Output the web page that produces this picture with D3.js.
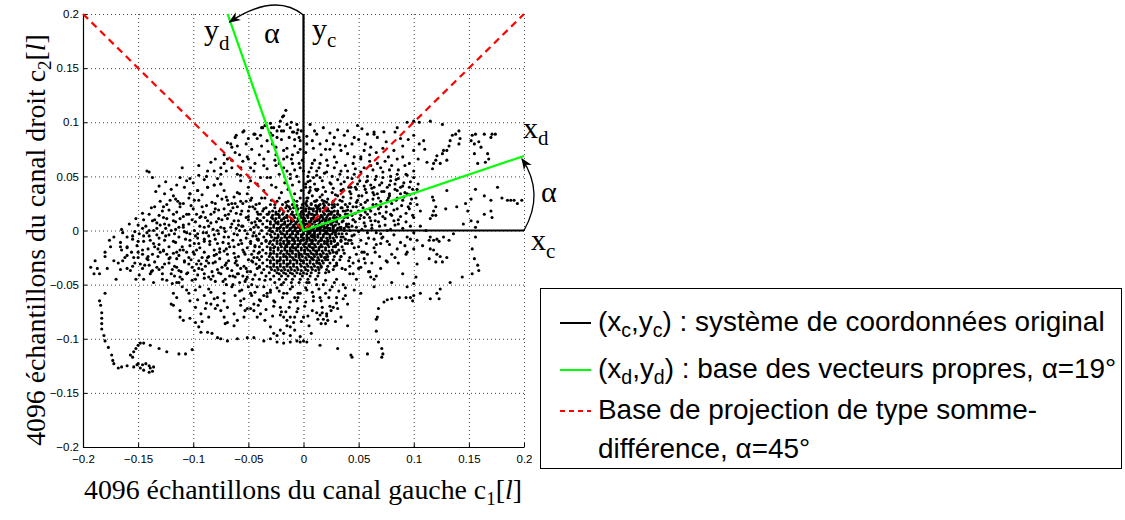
<!DOCTYPE html>
<html>
<head>
  <meta charset="utf-8">
  <title>Décorrélation stéréo</title>
  <script src="https://d3js.org/d3.v7.min.js"></script>
  <style>
    body { margin: 0; background: #fff; }
    .tick text { font-family: "Liberation Sans", Arial, sans-serif; font-size: 11.5px; }
  </style>
</head>
<body>
  <div id="chart"></div>

  <script>
    // echantillons, en milliemes (x = canal gauche, y = canal droit)
    var upperDots = [[-16,111],[-18,106],[-19,105],[-30,99],[-35,97],[-29,95],[-21,101],[-15,98],[-12,95],[-9,91],[-5,93],[-6,90],[-38,95],[-45,89],[-39,88],[-55,91],[-61,88],[-69,81],[-65,77],[-52,80],[-84,63],[-75,58],[-65,65],[-50,66],[-142,55],[-140,54],[-137,49],[-131,41],[-34,97],[-37,95],[-27,95],[-24,92],[-10,91],[-4,86],[-3,83],[-44,89],[-42,85],[-54,92],[-62,86],[-66,80],[-69,66],[-65,58],[-57,58],[-51,68],[-36,66],[-33,83],[-25,77],[-18,74],[-15,68],[-10,62],[-3,58],[-15,55],[-22,52],[-30,49],[-39,49],[-48,46],[-57,51],[-36,60],[-60,52],[-75,52],[-81,55],[-87,55],[-95,51],[-103,48],[-106,46],[-112,49],[-115,42],[-42,43],[-36,37],[-33,49],[-57,46],[-81,42],[-75,43],[-87,40],[-96,37],[-103,34],[-8,78],[-20,84],[-28,88],[-47,75],[-58,70],[-72,62],[-90,47],[-125,45],[-120,38],[-5,72],[-1,65],[-12,48],[-25,60],[-45,55],[-50,40],
      [6,98],[12,89],[8,83],[15,80],[21,83],[28,86],[37,88],[46,86],[49,97],[53,94],[58,89],[64,91],[67,86],[61,77],[55,74],[52,68],[46,68],[40,71],[34,74],[28,68],[21,65],[15,62],[12,55],[9,49],[6,46],[15,49],[21,54],[28,58],[34,55],[40,49],[46,52],[52,54],[61,60],[67,62],[58,46],[49,43],[43,40],[34,43],[25,43],[18,40],[12,37],[6,37],[64,40],[67,34],
      [-40,70],[-32,73],[-25,70],[-18,66],[-10,70],[-3,75],[3,80],[-28,80],[-22,62],[-8,56],[-44,62],[-38,78],[-30,90],[-20,92],[-13,86],[-2,92],[3,87],[10,92],[18,95],[24,90],[31,93],[40,92],[20,75],[27,80],[38,78],[44,80],[50,84],[56,80],[60,70],[66,72],[72,76],[77,68],[82,74],[90,78],[95,84],[100,88],[105,80],[110,75],[104,66],[96,62],[88,85],[75,82],[-48,58],[-55,64],[-62,72],[-70,55],[-78,48],[-88,50],[-100,44],[-108,40],[-126,34],[-134,36],[-110,58],[-95,60],[-80,66],[-72,70],[-60,78],[-50,85],
      [-20,35],[-14,38],[-8,34],[-2,37],[5,35],[11,38],[-17,44],[-10,42],[-4,45],[2,43],[-25,40],[-12,52],[-6,50],[0,55],[-18,58],[-4,62],[-11,66],[-15,76],[-8,84],[-24,86],[-18,92],[-11,100],[-22,96],[-6,98],[-26,65],[-33,57],[-29,42],[-35,30]];

    var rightDots = [[105,100],[115,101],[126,98],[141,92],[138,89],[142,85],[141,80],[135,88],[133,83],[132,78],[130,74],[127,74],[126,71],[121,69],[120,65],[118,62],[124,62],[130,65],[153,88],[156,89],[152,83],[155,80],[159,82],[161,77],[164,89],[171,89],[174,89],[170,86],[167,71],[168,66],[155,71],[158,62],[165,63],[117,31],[118,28],[120,22],[118,18],[117,14],[120,14],[115,11],[129,20],[130,37],[139,22],[149,18],[152,29],[156,38],[164,32],[170,28],[176,40],[180,30],[185,28],[188,28],[191,28],[194,25],[198,28],[164,15],[170,18],[171,12],[147,25],[152,9],[156,3],[111,0],[115,-6],[121,-8],[127,-6],[85,95],[73,91],[64,89],[83,91],[94,100],[100,101],[109,83],[100,74],[90,68],[85,66],[112,63],[117,57],[94,51],[100,49],[103,38],[94,34],[97,25],[106,18],
      [5,5],[10,8],[15,3],[20,10],[25,6],[30,12],[35,8],[40,15],[45,10],[50,18],[55,12],[60,20],[65,15],[70,22],[75,17],[80,25],[85,20],[90,28],[95,22],[8,15],[13,20],[18,25],[23,18],[28,22],[33,28],[38,24],[43,30],[48,26],[53,32],[58,28],[63,35],[68,30],[73,36],[78,32],[83,38],[88,34],[10,-5],[16,-8],[22,-3],[28,-10],[34,-6],[40,-12],[46,-4],[52,-9],[58,-2],[64,-8],[70,-3],[76,-10],[82,-4],[88,-11],[94,-6],[12,28],[17,33],[26,35],[31,32],[36,38],[42,36],[47,40],[56,38],[61,42],[71,44],[78,42],[84,47],[91,44],[96,40],[5,20],[3,30],[2,40],[4,50],[7,58],[10,65],[2,72],[9,76],[16,70],[24,75],[33,79],[19,3],[27,1],[37,2],[44,4],[53,1],[62,5],[68,8],[74,5],[82,9],[88,13],[93,8],[99,14],[45,22],[52,24],[38,18],[31,18],[60,12],[66,24],[76,28],[85,30],[57,45],[66,50],[72,54],[79,50],[86,56],[92,60],[80,60],[74,64],[88,40],[96,33],[102,30],[106,4],[100,-2],
      [45,62],[52,66],[60,64],[38,60],[30,63],[22,60],[14,58],[8,62],[5,54],[12,51],[19,53],[26,50],[33,52],[40,55],[47,57],[55,58],[63,56],[70,58],[78,56],[85,52],[4,45],[10,43],[17,46],[24,44],[31,47],[37,45],[44,48],[51,46],[58,50],[65,47],[72,49],[79,46],[86,48],[93,52],[100,55],[6,40],[13,38],[20,36],[27,39],[34,37],[41,40],[48,38],[55,41],[62,39],[69,42],[76,40],[83,43],[90,41],[97,45],[104,43],
      [8,32],[15,31],[22,29],[29,33],[36,31],[43,34],[50,32],[57,35],[64,33],[71,36],[78,34],[85,37],[92,35],[99,38],[7,25],[14,23],[21,26],[28,24],[35,27],[42,25],[49,28],[56,26],[63,29],[70,27],[77,30],[84,28],[91,31],[98,29],[5,16],[12,18],[19,15],[26,17],[33,14],[40,19],[47,16],[54,21],[61,18],[68,20],[75,22],[82,19],[89,23],[96,20],[103,24],[9,11],[16,13],[23,10],[30,8],[37,12],[44,14],[51,11],[58,15],[65,9],[72,13],[79,15],[86,10],[93,16],[100,12],
      [6,-2],[13,2],[20,-1],[27,4],[34,1],[41,6],[48,3],[55,7],[62,2],[69,4],[76,0],[83,5],[90,2],[97,4],[8,-12],[15,-15],[22,-10],[29,-14],[36,-18],[43,-9],[50,-15],[57,-12],[64,-16],[71,-7],[78,-13],[85,-17],[92,-14],[12,-22],[20,-25],[27,-20],[34,-24],[41,-28],[48,-22],[55,-26],[62,-30],[69,-24],[76,-29],[83,-25],[16,-34],[23,-38],[30,-32],[38,-36],[45,-40],[52,-34],[59,-38],[66,-42],
      [44,-5],[50,-1],[56,4],[47,8],[39,4],[35,-3],[31,-13],[38,-8],[46,-16],[53,-20],[59,-7],[66,-2],[61,9],[52,14],[43,18],[48,22],[56,17],[63,24],[69,16],[74,11],[80,14],[86,6],[79,1],[72,-6],[66,-13],[58,-22],[50,-28],[42,-33]];

    var coreDots = [[0,0],[2,1],[-3,2],[4,-2],[-1,-4],[5,3],[-6,-1],[1,6],[-4,5],[7,-5],[-8,3],[3,-8],[9,2],[-2,-9],[10,-1],[-10,-3],[6,7],[-7,7],[8,-9],[-9,-8],[12,4],[-12,1],[0,11],[2,-12],[13,-6],[-13,-6],[11,9],[-11,9],[5,-14],[-5,-13],[15,1],[-15,4],[14,10],[-14,-11],[4,14],[-3,15],[16,-9],[-16,-14],[9,-16],[-9,-16],[18,5],[-18,6],[17,13],[-17,12],[1,-18],[-1,18],[19,-3],[-19,-3],[20,9],[-20,10],[12,-19],[-12,-19],[21,-12],[-21,-12],[7,20],[-7,21],[22,2],[-22,2],[23,15],[-23,15],[3,-22],[-4,-23],[24,-7],[-24,-7],[16,-23],[-16,-24],[25,6],[-25,7],[13,22],[-13,22],[27,-15],[-27,-16],[8,-26],[-8,-27],[28,11],[-28,11],[20,20],[-20,20],[29,-2],[-29,-1],[30,-20],[-30,-21],[2,25],[-2,-28],[31,16],[-31,17],[22,-27],[-22,-28],[33,3],[-33,3],[14,-30],[-14,-31],[34,-10],[-34,-10],[26,24],[-26,24],[35,21],[-36,20],
      [-20,-50],[-10,-52],[-15,-58],[-8,-62],[-22,-56],[5,-48],[12,-50],[20,-46],[28,-48],[-35,-46],[-42,-35],[-45,-25],[-44,-15],[-46,-5],[-43,5],[-41,15],[-40,25],[42,-25],[44,-12],[42,0],[45,10],[40,22],[-16,26],[-9,28],[-3,30],[4,30],[10,27],[17,28],[-22,30],[-29,28]];

    // coeur du nuage, par rangees : [y, [x...]]
    var coreRows = [
      [27, [-24,-14,-6,3,11,19,27]],
      [24, [-30,-19,-10,-1,7,15,23,31]],
      [21, [-34,-26,-16,-9,-2,5,12,18,26,34]],
      [18, [-37,-28,-22,-14,-6,2,9,15,21,28,36]],
      [15, [-39,-32,-25,-19,-11,-6,0,7,12,19,25,31,38]],
      [12, [-36,-29,-22,-15,-8,-2,4,9,15,21,27,33,40]],
      [9, [-40,-33,-26,-20,-14,-9,-4,2,7,12,17,23,30,36]],
      [6, [-37,-30,-23,-17,-12,-7,-2,3,8,14,19,25,32,39]],
      [3, [-41,-34,-27,-21,-15,-10,-5,0,5,10,16,21,27,34,41]],
      [0, [-38,-31,-24,-18,-13,-8,-3,2,7,12,18,24,30,37]],
      [-3, [-40,-33,-26,-20,-15,-10,-5,0,5,10,15,21,26,32,39]],
      [-6, [-36,-29,-23,-17,-12,-7,-2,3,8,13,18,24,30,36]],
      [-9, [-41,-34,-27,-21,-15,-10,-5,0,6,11,16,22,28,34,41]],
      [-12, [-38,-31,-24,-18,-13,-8,-3,2,7,13,19,25,31,38]],
      [-15, [-40,-33,-26,-20,-15,-10,-5,1,6,11,17,23,29,35]],
      [-18, [-37,-30,-23,-17,-12,-7,-2,4,9,14,20,26,32]],
      [-21, [-41,-34,-27,-21,-15,-10,-4,1,7,12,18,24,30,37]],
      [-24, [-38,-31,-24,-18,-12,-7,-1,5,10,16,22,28,34]],
      [-27, [-40,-33,-27,-21,-15,-9,-3,3,9,14,20,27,33]],
      [-30, [-37,-30,-24,-18,-12,-6,0,6,12,18,24,30]],
      [-33, [-40,-33,-27,-21,-15,-9,-2,4,10,16,22,28]],
      [-36, [-36,-29,-23,-17,-11,-5,2,8,14,21,27]],
      [-39, [-38,-31,-24,-18,-12,-6,0,7,14,20]],
      [-42, [-34,-27,-20,-14,-8,-1,6,13]],
      [-45, [-30,-22,-16,-10,-3,4,11]],
      [-48, [-26,-18,-11,-4,3]]
    ];
    var coreRowsInner = [
      [23, [-15,-6,3,11,19]],
      [20, [-21,-12,-5,2,9,15,22]],
      [17, [-25,-18,-10,-2,5,12,18,25]],
      [14, [-28,-22,-15,-9,-3,3,10,16,22,28]],
      [11, [-25,-18,-11,-5,1,7,12,18,24,30]],
      [8, [-30,-23,-17,-11,-6,-1,5,10,15,20,27]],
      [5, [-27,-20,-14,-9,-4,1,6,11,17,22,29]],
      [2, [-30,-24,-18,-12,-7,-2,3,8,13,19,24,31]],
      [-1, [-28,-21,-15,-10,-5,0,5,10,15,21,27]],
      [-4, [-30,-23,-17,-12,-7,-2,3,8,13,18,24,29]],
      [-7, [-26,-20,-15,-10,-5,0,5,10,16,21,27]],
      [-10, [-30,-24,-18,-13,-8,-3,3,8,14,19,25]],
      [-13, [-28,-21,-15,-10,-5,0,5,10,16,22]],
      [-16, [-30,-23,-17,-12,-7,-2,3,8,14,20]],
      [-19, [-27,-20,-15,-10,-5,1,6,11,17,23]],
      [-22, [-30,-24,-18,-13,-7,-2,4,9,15,21]],
      [-25, [-28,-21,-15,-10,-4,2,7,13,19]],
      [-28, [-30,-24,-18,-12,-6,0,6,12,17]],
      [-31, [-27,-21,-15,-9,-3,3,9,15]],
      [-34, [-30,-24,-18,-12,-6,1,7,13]],
      [-37, [-26,-20,-14,-8,-2,4,11]],
      [-40, [-22,-16,-10,-3,3]]
    ];

    var leftDots = [[-193,-34],[-189,-28],[-187,-35],[-180,-20],[-175,-15],[-172,-6],[-166,-15],[-164,-2],[-160,-35],[-157,-37],[-154,-25],[-148,-31],[-146,-22],[-142,-26],[-139,-9],[-133,2],[-130,5],[-128,18],[-127,22],[-121,28],[-116,29],[-112,25],[-118,15],[-124,11],[-112,11],[-109,5],[-106,-2],[-103,-9],[-96,-3],[-90,3],[-87,9],[-84,15],[-92,22],[-99,28],[-103,34],[-96,37],[-87,40],[-81,42],[-75,43],[-72,37],[-69,28],[-63,31],[-60,22],[-57,15],[-63,9],[-66,3],[-72,-6],[-78,-12],[-81,-18],[-87,-25],[-93,-31],[-99,-37],[-106,-40],[-115,-34],[-121,-25],[-127,-18],[-133,-34],[-139,-40],[-69,-22],[-63,-15],[-57,-9],[-51,-3],[-45,3],[-39,9],[-33,15],[-48,28],[-51,34],
      [-150,-10],[-145,-5],[-140,0],[-135,-15],[-130,-20],[-125,-5],[-120,0],[-118,-10],[-115,-20],[-110,-15],[-108,-28],[-100,-20],[-95,-12],[-92,-25],[-88,-2],[-85,-10],[-82,-30],[-78,0],[-76,-20],[-74,10],[-70,-30],[-68,-12],[-66,18],[-62,-25],[-60,-40],[-58,0],[-55,25],[-54,-20],[-52,-35],[-50,10],[-48,-12],[-47,-28],[-44,20],[-42,-8],[-40,-20],[-38,30],[-52,-45],[-64,-42],[-58,-48],[-75,-40],[-84,-45],[-90,-40],[-98,-45],[-110,-45],[-102,-27],[-104,15],[-98,8],[-94,12],[-80,25],[-78,32],[-72,20],[-65,25],[-60,35],[-140,15],[-135,22],[-145,10],[-150,5],[-155,-5],[-160,-15],[-162,-25],[-168,-30],[-172,-28],[-178,-35],[-185,-40],[-190,-40],[-120,-40],[-128,-45],[-136,-48],[-145,-45],[-152,-45],[-170,-45],[-115,-48],[-94,-52],[-86,-54],[-70,-50],[-56,-55],[-48,-58],[-42,-52],[-36,-60],[-30,-55],
      [-118,32],[-104,30],[-92,33],[-70,31],[-58,34],[-47,30],[-130,27],[-109,25],[-95,28],[-83,26],[-74,29],[-62,25],[-52,27],[-43,24],[-138,21],[-122,19],[-112,22],[-100,20],[-88,23],[-77,19],[-64,21],[-56,18],[-46,22],[-146,16],[-131,14],[-115,17],[-106,15],[-93,13],[-81,17],[-71,14],[-61,16],[-50,13],[-42,17],
      [-152,11],[-137,9],[-127,12],[-116,8],[-101,10],[-89,12],[-79,8],[-69,11],[-59,9],[-52,12],[-44,8],[-158,6],[-143,4],[-133,7],[-122,5],[-113,3],[-104,6],[-94,4],[-84,7],[-75,3],[-65,6],[-55,4],[-47,7],
      [-165,1],[-153,-1],[-146,2],[-136,0],[-128,-2],[-116,1],[-109,3],[-99,0],[-91,-2],[-82,1],[-71,-1],[-61,2],[-53,0],[-45,-2],[-160,-6],[-149,-3],[-140,-5],[-131,-7],[-122,-4],[-113,-6],[-103,-3],[-96,-7],[-86,-5],[-77,-3],[-68,-6],[-60,-4],[-52,-7],[-43,-5],
      [-176,-9],[-166,-11],[-155,-8],[-145,-10],[-136,-12],[-126,-9],[-116,-11],[-107,-8],[-99,-12],[-90,-10],[-80,-8],[-73,-11],[-64,-9],[-56,-12],[-48,-10],[-41,-8],[-160,-16],[-151,-14],[-141,-17],[-131,-13],[-122,-15],[-112,-18],[-103,-14],[-94,-16],[-85,-13],[-76,-17],[-67,-15],[-59,-13],[-51,-16],[-44,-14],
      [-165,-18],[-156,-20],[-146,-18],[-137,-22],[-127,-19],[-118,-21],[-109,-18],[-99,-22],[-90,-20],[-81,-23],[-72,-19],[-63,-21],[-55,-18],[-47,-22],[-180,-24],[-160,-23],[-150,-25],[-141,-27],[-132,-24],[-122,-26],[-113,-23],[-104,-25],[-95,-28],[-86,-24],[-76,-26],[-68,-28],[-59,-24],[-50,-27],[-42,-25],
      [-164,-28],[-153,-30],[-144,-32],[-135,-29],[-126,-31],[-117,-33],[-108,-29],[-97,-31],[-89,-33],[-80,-29],[-71,-32],[-62,-30],[-54,-33],[-46,-29],[-166,-36],[-155,-33],[-146,-35],[-137,-37],[-128,-34],[-119,-36],[-111,-38],[-101,-34],[-92,-36],[-83,-38],[-74,-34],[-65,-37],[-57,-35],[-48,-38],[-40,-34],
      [-149,-41],[-138,-38],[-128,-40],[-117,-42],[-105,-39],[-96,-41],[-86,-43],[-77,-39],[-67,-42],[-59,-40],[-51,-43],[-44,-41],[-124,-46],[-112,-43],[-101,-46],[-90,-44],[-80,-47],[-71,-45],[-62,-43],[-53,-47],[-46,-45],
      [-142,-2],[-133,-4],[-125,2],[-117,-3],[-108,-1],[-98,-5],[-90,-8],[-81,-4],[-72,2],[-63,-3],[-56,4],[-48,1],[-150,-20],[-141,-24],[-132,-17],[-124,-22],[-115,-26],[-106,-20],[-97,-18],[-88,-28],[-79,-22],[-70,-17],[-61,-28],[-53,-22],[-45,-19],
      [-140,-32],[-131,-36],[-122,-30],[-113,-37],[-104,-31],[-95,-35],[-86,-30],[-78,-36],[-69,-35],[-60,-32],[-51,-38],[-43,-31],[-135,10],[-126,6],[-118,9],[-109,13],[-97,15],[-86,4],[-77,11],[-68,15],[-59,5],[-50,18],[-42,11],
      [-124,24],[-114,27],[-102,23],[-91,17],[-80,20],[-68,24],[-57,27],[-49,22],[-82,-42],[-73,-47],[-64,-50],[-55,-42],[-47,-50],[-40,-45]];

    var lowerDots = [[-120,-68],[-118,-69],[-112,-74],[-112,-80],[-109,-83],[-103,-81],[-98,-85],[-95,-89],[-93,-94],[-87,-94],[-83,-95],[-78,-99],[-75,-100],[-69,-102],[-60,-100],[-51,-99],[-45,-99],[-36,-102],[-30,-100],[-24,-103],[-18,-104],[-12,-103],[-6,-102],[-3,-103],[3,-103],
      [-118,-58],[-115,-62],[-119,-49],[-113,-48],[-106,-55],[-103,-65],[-98,-71],[-93,-77],[-89,-72],[-84,-68],[-81,-63],[-78,-69],[-75,-74],[-72,-80],[-69,-85],[-63,-88],[-60,-83],[-54,-80],[-51,-72],[-45,-74],[-39,-65],[-33,-58],[-27,-65],[-21,-71],[-16,-75],[-12,-80],[-9,-85],[-15,-88],[-21,-92],[-24,-97],[-18,-95],[-12,-97],
      [-72,-65],[-69,-71],[-63,-77],[-71,-86],[-57,-65],[-53,-74],[-45,-68],[-39,-77],[-30,-89],[-27,-95],[-21,-78],[-18,-80],[-15,-83],[-12,-89],[-6,-65],[-3,-58],[3,-55],[9,-65],[15,-62],[17,-71],[15,-78],[18,-82],[21,-77],[25,-74],[27,-71],[34,-80],[40,-88],[46,-55],[52,-58],[61,-43],[64,-52],[67,-80],[-3,-98],[0,-102],[15,-106],[31,-109],[43,-115],[44,-117],[58,-114],
      [12,-76],[13,-82],[16,-86],[20,-86],[22,-83],[21,-79],[17,-76],
      [30,-45],[36,-50],[42,-40],[48,-45],[38,-60],[30,-62],[24,-55],[18,-50],[50,-35],[56,-30],[60,-38],[70,-35],[75,-28],[80,-22],[86,-30],[90,-40],[45,-30],[35,-35],[55,-20],[65,-20],[70,-12],[40,-68],[-5,-72],[0,-80],[5,-88],[-8,-92],[7,-95],
      [-65,-52],[-58,-56],[-50,-52],[-44,-57],[-36,-52],[-30,-57],[-24,-53],[-18,-58],[-12,-54],[-5,-58],[2,-53],[8,-57],[14,-54],[20,-58],[26,-52],[32,-56],[38,-53],[-62,-60],[-54,-63],[-47,-60],[-40,-64],[-33,-61],[-26,-66],[-19,-62],[-12,-66],[-5,-62],[2,-66],[9,-61],[16,-65],[23,-62],[30,-67],[36,-63],
      [-57,-69],[-48,-72],[-41,-69],[-34,-73],[-27,-70],[-20,-75],[-13,-71],[-6,-75],[1,-70],[8,-74],[24,-70],[31,-72],[-42,-80],[-35,-83],[-28,-79],[-8,-80],[-2,-84],[4,-79],[29,-84],
      [-110,-52],[-104,-58],[-98,-55],[-90,-60],[-84,-57],[-78,-62],[-72,-58],[-96,-64],[-88,-67],[-80,-72],[-86,-80],[-92,-84]];

    var rightTrail = [[158,8],[145,6],[136,-3],[156,-6],[153,-17],[155,-26],[158,-32],[159,-37],[153,-40],[144,-43],[133,-48],[121,-58],[124,-54],[123,-63],[115,-63],[106,-58],[100,-60],[99,-65],[97,-62],[94,-52],[93,-62],[87,-62],[80,-63],[76,-64],[73,-66],[68,-72],[66,-82],[66,-93],[68,-103],[71,-109],[72,-114],[71,-117],[80,-48],[64,-45],[103,-31],[102,-43],[100,-49],[114,-26],[115,-17],[118,-18],[121,-22],[124,-24],[126,-29],[130,-25],[120,-29],[132,-9],[123,-10],[118,-9],[114,-9],[108,-14],[100,-17],[94,-20],[93,-22],[103,-9],[97,-8]];

    var leftLoop = [[-180,-58],[-185,-65],[-184,-69],[-183,-76],[-183,-81],[-183,-86],[-183,-91],[-181,-97],[-180,-102],[-177,-108],[-174,-115],[-173,-120],[-172,-123],[-168,-127],[-165,-126],[-160,-125],[-154,-126],[-150,-123],[-146,-124],[-143,-123],[-140,-125],[-139,-127],[-136,-126],[-137,-130],[-140,-131],[-145,-129],[-148,-127],[-151,-124],[-155,-117],[-157,-115],[-154,-112],[-152,-109],[-150,-106],[-148,-104],[-145,-104],[-139,-106],[-131,-109],[-124,-112],[-113,-114],[-107,-114],[-101,-110]];

    // axes et bases
    var xTicks = [-0.2, -0.15, -0.1, -0.05, 0, 0.05, 0.1, 0.15, 0.2];
    var yTicks = [-0.2, -0.15, -0.1, -0.05, 0, 0.05, 0.1, 0.15, 0.2];
    var alphaDeg = 19;
    var legendLabels = ["système de coordonnées original", "base des vecteurs propres, ", "Base de projection de type somme-", "différence, "];

    var W = 1125, H = 520;
    var svg = d3.select("#chart").append("svg")
      .attr("width", W)
      .attr("height", H)
      .style("font-family", "'Liberation Sans', Arial, sans-serif");

    var x = d3.scaleLinear().domain([-0.2, 0.2]).range([83, 524]);
    var y = d3.scaleLinear().domain([-0.2, 0.2]).range([447, 14]);

    var fmt = function(d) { return d === 0 ? "0" : String(d).replace("-", "\u2212"); };

    // grille pointillee
    var grid = svg.append("g").attr("stroke", "#444").attr("stroke-width", 1).attr("stroke-dasharray", "1,3");
    grid.selectAll("line.v").data(xTicks.slice(1)).enter().append("line")
      .attr("x1", d => x(d) + 0.5).attr("x2", d => x(d) + 0.5)
      .attr("y1", y(0.2)).attr("y2", y(-0.2));
    grid.selectAll("line.h").data(yTicks.slice(1)).enter().append("line")
      .attr("y1", d => y(d) + 0.5).attr("y2", d => y(d) + 0.5)
      .attr("x1", x(-0.2)).attr("x2", x(0.2));

    svg.append("g")
      .attr("transform", "translate(0," + y(-0.2) + ")")
      .call(d3.axisBottom(x).tickValues(xTicks).tickFormat(fmt).tickSizeInner(-4).tickSizeOuter(0).tickPadding(8))
      .call(g => g.select(".domain").attr("stroke-width", 1.2));

    svg.append("g")
      .attr("transform", "translate(" + x(-0.2) + ",0)")
      .call(d3.axisLeft(y).tickValues(yTicks).tickFormat(fmt).tickSizeInner(-4).tickSizeOuter(0).tickPadding(4))
      .call(g => g.select(".domain").attr("stroke-width", 1.2));

    // nuage de points
    var rowDots = [];
    coreRows.concat(coreRowsInner).forEach(function(r) { r[1].forEach(function(v) { rowDots.push([v, r[0]]); }); });
    var allDots = [].concat(upperDots, rightDots, coreDots, rowDots, leftDots, lowerDots, rightTrail, leftLoop);
    svg.append("g").selectAll("circle")
      .data(allDots)
      .enter().append("circle")
      .attr("cx", d => x(d[0] / 1000))
      .attr("cy", d => y(d[1] / 1000))
      .attr("r", 1.55)
      .attr("fill", "#000");

    // bases
    var t = Math.tan(alphaDeg * Math.PI / 180);
    var lineGen = d3.line().x(d => x(d[0])).y(d => y(d[1]));

    svg.append("path").datum([[-0.2, 0.2], [0, 0], [0.2, 0.2]])
      .attr("d", lineGen).attr("fill", "none")
      .attr("stroke", "#ff0000").attr("stroke-width", 2.2).attr("stroke-dasharray", "7,5");
    svg.append("path").datum([[0, 0.2], [0, 0], [0.2, 0]])
      .attr("d", lineGen).attr("fill", "none")
      .attr("stroke", "#000").attr("stroke-width", 2.2);
    svg.append("path").datum([[-0.2 * t, 0.2], [0, 0], [0.2, 0.2 * t]])
      .attr("d", lineGen).attr("fill", "none")
      .attr("stroke", "#00ff00").attr("stroke-width", 2.2);

    // fleches alpha
    svg.append("defs").append("marker")
      .attr("id", "arrow").attr("viewBox", "0 0 10 10")
      .attr("refX", 9).attr("refY", 5)
      .attr("markerWidth", 9).attr("markerHeight", 9)
      .attr("orient", "auto")
      .append("path").attr("d", "M0,1 L10,5 L0,9 L3,5 Z").attr("fill", "#000");

    svg.append("path")
      .attr("d", "M" + x(0) + "," + (y(0.2) + 1) + " Q" + x(-0.026) + "," + (y(0.2) - 22) + " " + (x(-0.2 * t) + 2) + "," + (y(0.2) + 8))
      .attr("fill", "none").attr("stroke", "#000").attr("stroke-width", 1.3)
      .attr("marker-end", "url(#arrow)");
    svg.append("path")
      .attr("d", "M" + x(0.2) + "," + y(0) + " Q" + (x(0.2) + 21) + "," + y(0.2 * t / 2) + " " + (x(0.2) - 2) + "," + (y(0.2 * t) + 3))
      .attr("fill", "none").attr("stroke", "#000").attr("stroke-width", 1.3)
      .attr("marker-end", "url(#arrow)");

    // etiquettes des axes de base
    var serif = "'Liberation Serif', 'Times New Roman', serif";
    function subLabel(px, py, main, sub, dy) {
      var tx = svg.append("text").attr("x", px).attr("y", py)
        .style("font-family", serif).style("font-size", "30px");
      tx.append("tspan").text(main);
      tx.append("tspan").attr("dy", dy).style("font-size", "21px").text(sub);
    }
    subLabel(204, 40, "y", "d", 10);
    subLabel(312, 39, "y", "c", 8);
    subLabel(523, 138, "x", "d", 7);
    subLabel(531, 250, "x", "c", 8);
    svg.append("text").attr("x", 264).attr("y", 43).style("font-family", serif).style("font-size", "30px").text("\u03b1");
    svg.append("text").attr("x", 541).attr("y", 202).style("font-family", serif).style("font-size", "30px").text("\u03b1");

    // titres, ajustes a la longueur
    function rescale(sel, k, fs) {
      sel.style("font-size", (fs * k) + "px");
      sel.selectAll("tspan").each(function() {
        var s = d3.select(this);
        if (s.attr("data-fs")) s.style("font-size", (parseFloat(s.attr("data-fs")) * k) + "px");
        if (s.attr("data-dy")) s.attr("dy", parseFloat(s.attr("data-dy")) * k);
      });
    }
    function fitText(sel, target) {
      var len = sel.node().getComputedTextLength();
      var fs = parseFloat(sel.style("font-size"));
      var k = target / len;
      rescale(sel, k, fs);
      return k;
    }
    function axisTitle(g, chiffre) {
      g.append("tspan").text("4096 échantillons du canal " + chiffre[0] + " c");
      g.append("tspan").attr("data-dy", 5).attr("dy", 5).attr("data-fs", 15).style("font-size", "15px").text(chiffre[1]);
      g.append("tspan").attr("data-dy", -5).attr("dy", -5).text("[");
      g.append("tspan").style("font-style", "italic").text("l");
      g.append("tspan").text("]");
    }

    var yl = svg.append("text")
      .attr("transform", "translate(45,240) rotate(-90)")
      .attr("text-anchor", "middle")
      .style("font-family", serif).style("font-size", "22px");
    axisTitle(yl, ["droit", "2"]);
    fitText(yl, 412);

    var xl = svg.append("text")
      .attr("x", 303).attr("y", 499)
      .attr("text-anchor", "middle")
      .style("font-family", serif).style("font-size", "22px");
    axisTitle(xl, ["gauche", "1"]);
    fitText(xl, 438);

    // legende
    var lg = svg.append("g");
    lg.append("rect").attr("x", 540.5).attr("y", 288.5).attr("width", 581).attr("height", 180)
      .attr("fill", "#fff").attr("stroke", "#000").attr("stroke-width", 1);
    var rows = [
      {y: 323, color: "#000", dash: null},
      {y: 370, color: "#00ff00", dash: null},
      {y: 411, color: "#ff0000", dash: "5,4"}
    ];
    rows.forEach(function(r) {
      lg.append("line").attr("x1", 560).attr("x2", 591).attr("y1", r.y).attr("y2", r.y)
        .attr("stroke", r.color).attr("stroke-width", 2).attr("stroke-dasharray", r.dash);
    });
    function legText(py, parts) {
      var tx = lg.append("text").attr("x", 598).attr("y", py).style("font-size", "20px");
      parts.forEach(function(p) {
        var s = tx.append("tspan").text(p[0]);
        if (p[1]) s.attr("dy", p[1]).attr("data-dy", p[1]);
        if (p[2]) s.attr("data-fs", p[2]).style("font-size", p[2] + "px");
      });
      return tx;
    }
    var l1 = legText(331, [["(x"], ["c", 4, 14], [",y", -4], ["c", 4, 14], [") : " + legendLabels[0], -4]]);
    var l2 = legText(378, [["(x"], ["d", 4, 14], [",y", -4], ["d", 4, 14], [") : " + legendLabels[1] + "\u03b1=" + alphaDeg + "\u00b0", -4]]);
    var l3 = legText(419, [[legendLabels[2]]]);
    var l4 = legText(458, [[legendLabels[3] + "\u03b1=45\u00b0"]]);
    var k = fitText(l1, 507);
    [l2, l3, l4].forEach(function(l) { rescale(l, k, 20); });
  </script>
</body>
</html>
